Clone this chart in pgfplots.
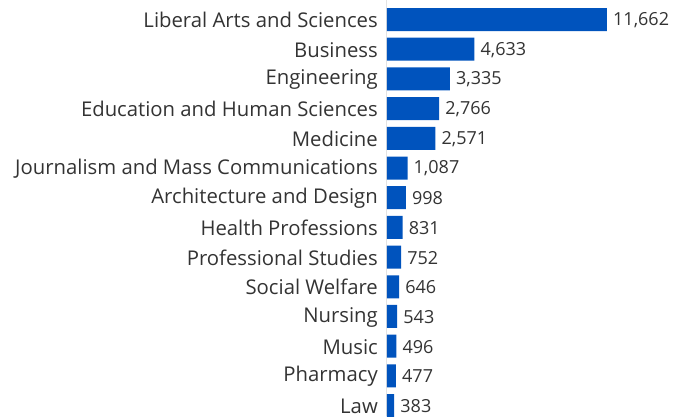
\documentclass[border=0pt]{standalone}
\usepackage{pgfplots}
\pgfplotsset{compat=1.18}
\usepackage{fontspec}
\setmainfont{Open Sans}
\definecolor{barblue}{HTML}{0053BD}
\definecolor{txt}{HTML}{333333}
\definecolor{axgray}{HTML}{E3E3E3}
\begin{document}
\begin{tikzpicture}[x=1pt,y=1pt]
\path[use as bounding box] (0,0) rectangle (697,416);
\begin{axis}[
  at={(387pt,0pt)}, anchor=south west,
  scale only axis, width=310pt, height=416pt,
  xmin=0, xmax=16433, ymin=-0.351, ymax=13.658,
  xbar, bar width=23pt,
  axis x line=none, axis y line*=left,
  y axis line style={axgray, line width=1pt, -},
  ytick=data, major tick length=0pt,
  yticklabels={Law,Pharmacy,Music,Nursing,Social Welfare,Professional Studies,Health Professions,Architecture and Design,Journalism and Mass Communications,Medicine,Education and Human Sciences,Engineering,Business,Liberal Arts and Sciences},
  yticklabel style={font=\fontsize{20.3}{22}\selectfont, text=txt, inner sep=0pt, xshift=-9pt, yshift=-0.5pt},
  nodes near coords,
  point meta=x,
  nodes near coords style={font=\fontsize{18}{20}\selectfont, text=txt, anchor=west, inner sep=0pt, xshift=6pt, yshift=-0.5pt,
    /pgf/number format/.cd, fixed, precision=0, 1000 sep={,}, assume math mode=true},
  clip=false,
]
\addplot[fill=barblue, draw=none] coordinates {
(383,0) (477,1) (496,2) (543,3) (646,4) (752,5) (831,6) (998,7) (1087,8) (2571,9) (2766,10) (3335,11) (4633,12) (11662,13)};
\end{axis}
\end{tikzpicture}
\end{document}
